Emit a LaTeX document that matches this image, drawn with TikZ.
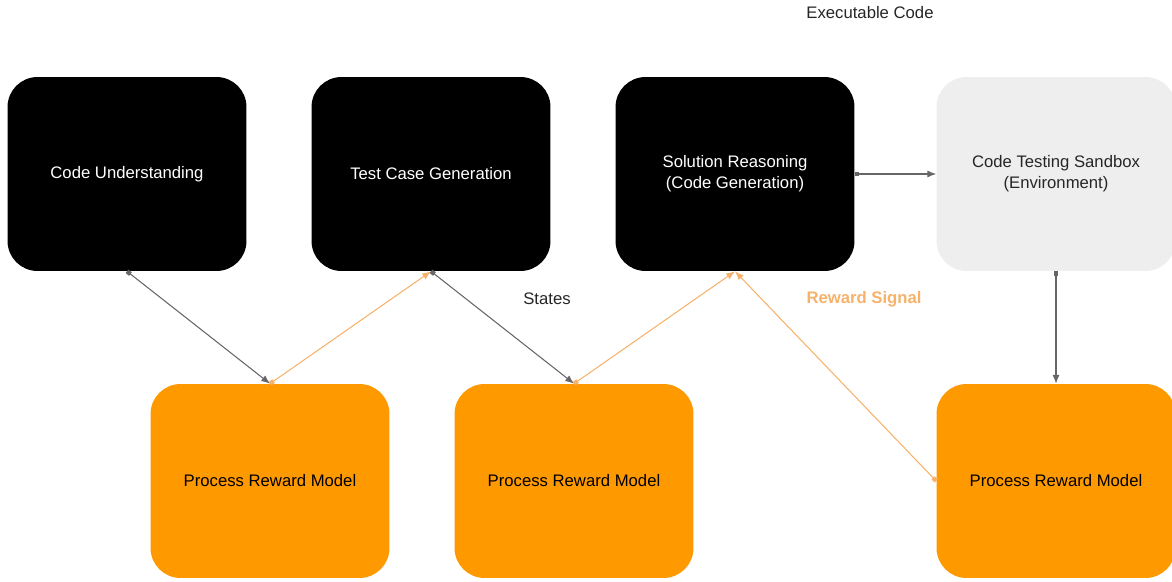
\documentclass[tikz,border=0pt]{standalone}
\usepackage{fontspec}
\setmainfont{Liberation Sans}
\usetikzlibrary{arrows.meta}
\definecolor{prmorange}{HTML}{FF9900}
\definecolor{sigorange}{HTML}{F6B26B}
\definecolor{boxgray}{HTML}{EEEEEE}
\definecolor{linegray}{HTML}{666666}
\begin{document}
\begin{tikzpicture}[x=0.02cm, y=-0.02cm,
    every node/.style={font=\fontsize{9.5}{12}\selectfont, align=center},
    stagebox/.style={rectangle, rounded corners=0.6cm, minimum width=4.78cm, minimum height=3.88cm, fill=black, text=white},
    prmbox/.style={rectangle, rounded corners=0.6cm, minimum width=4.78cm, minimum height=3.88cm, fill=prmorange, text=black},
    envbox/.style={rectangle, rounded corners=0.6cm, minimum width=4.78cm, minimum height=3.88cm, fill=boxgray, text=black!85},
    flow/.style={draw=linegray, line width=0.6pt, {Square[length=2.5pt,width=2.5pt]}-{Latex[length=5pt,width=4pt]}},
    reward/.style={draw=sigorange, line width=0.6pt, {Square[length=2.5pt,width=2.5pt]}-{Latex[length=5pt,width=4pt]}}]
  \useasboundingbox (0,0) rectangle (1172,581);
  \node (cu)  [stagebox] at (127,174) {Code Understanding};
  \node (tcg) [stagebox] at (431,174) {Test Case Generation};
  \node (sr)  [stagebox] at (735,174) {Solution Reasoning\\(Code Generation)};
  \node (env) [envbox]   at (1056,174) {Code Testing Sandbox\\(Environment)};
  \node (prma) [prmbox]  at (270,481) {Process Reward Model};
  \node (prmb) [prmbox]  at (574,481) {Process Reward Model};
  \node (prmc) [prmbox]  at (1056,481) {Process Reward Model};
  \node (exec)   [text=black!85] at (870,13) {Executable Code};
  \node (states) [text=black!85] at (547,299) {States};
  \node (signal) [text=sigorange, font=\fontsize{9.5}{12}\selectfont\bfseries] at (864,299) {Reward Signal};
  \draw[flow] (cu.south) -- (prma.north);
  \draw[reward] (prma.north) -- (tcg.south);
  \draw[flow] (tcg.south) -- (prmb.north);
  \draw[reward] (prmb.north) -- (sr.south);
  \draw[reward] (prmc.west) -- (sr.south);
  \draw[flow] (sr.east) -- (env.west);
  \draw[flow] (env.south) -- (prmc.north);
\end{tikzpicture}
\end{document}
